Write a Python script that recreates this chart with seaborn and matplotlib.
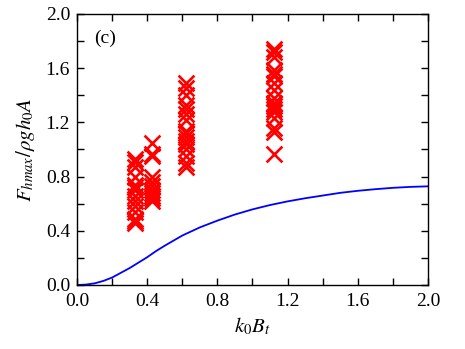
import numpy as np
import pandas as pd
import seaborn as sns
import matplotlib
matplotlib.use("Agg")
import matplotlib.pyplot as plt
from matplotlib.ticker import MultipleLocator, FormatStrFormatter

# experimental data (x positions and values)
x1 = 0.33
y1 = [0.93, 0.91, 0.87, 0.80, 0.74, 0.72, 0.70, 0.66, 0.62, 0.58, 0.54, 0.49, 0.47, 0.46]
x2 = 0.43
y2 = [1.05, 0.97, 0.95, 0.80, 0.76, 0.73, 0.70, 0.68, 0.66, 0.64, 0.62]
x3 = 0.62
y3 = [1.49, 1.45, 1.40, 1.33, 1.30, 1.26, 1.22, 1.14, 1.12, 1.09, 1.06, 1.04, 1.00, 0.95, 0.90, 0.87]
x4 = 1.12
y4 = [1.74, 1.72, 1.68, 1.59, 1.56, 1.54, 1.49, 1.44, 1.38, 1.34, 1.32, 1.30, 1.28, 1.23, 1.16, 1.13, 0.97]

# theory curve
curve_x = [0.0, 0.05, 0.1, 0.15, 0.2, 0.25, 0.3, 0.35, 0.4, 0.45, 0.5, 0.6, 0.7, 0.8, 0.9, 1.0, 1.1, 1.2, 1.3, 1.4, 1.5, 1.6, 1.7, 1.8, 1.9, 2.0]
curve_y = [0.0, 0.003, 0.012, 0.03, 0.055, 0.09, 0.125, 0.165, 0.205, 0.25, 0.29, 0.365, 0.425, 0.475, 0.52, 0.558, 0.59, 0.617, 0.64, 0.66, 0.68, 0.695, 0.707, 0.717, 0.724, 0.728]

sns.set_style("ticks")
plt.rcParams['font.family'] = ['Liberation Serif', 'DejaVu Serif']
plt.rcParams['mathtext.fontset'] = 'stix'

fig = plt.figure(figsize=(4.65, 3.49), dpi=100)
ax = fig.add_axes([0.1656, 0.1834, 0.7548, 0.7766])

pts = pd.DataFrame({
    "x": [x1] * len(y1) + [x2] * len(y2) + [x3] * len(y3) + [x4] * len(y4),
    "y": y1 + y2 + y3 + y4,
})
cur = pd.DataFrame({"x": curve_x, "y": curve_y})

sns.lineplot(data=cur, x="x", y="y", color="#0000ff", linewidth=1.3, ax=ax)
sns.scatterplot(data=pts, x="x", y="y", marker="x", color="red", s=130,
                linewidth=1.9, ax=ax, zorder=3)

ax.set_xlim(0, 2.0)
ax.set_ylim(0, 2.0)
ax.xaxis.set_major_locator(MultipleLocator(0.4))
ax.xaxis.set_minor_locator(MultipleLocator(0.2))
ax.yaxis.set_major_locator(MultipleLocator(0.4))
ax.yaxis.set_minor_locator(MultipleLocator(0.2))
ax.xaxis.set_major_formatter(FormatStrFormatter('%.1f'))
ax.yaxis.set_major_formatter(FormatStrFormatter('%.1f'))
ax.tick_params(which='both', direction='in', top=True, right=True, labelsize=14,
               width=1, color='black', labelcolor='black')
ax.tick_params(which='both', length=5)
ax.tick_params(axis='x', which='major', pad=6)
ax.tick_params(axis='y', which='major', pad=5)
for s in ax.spines.values():
    s.set_linewidth(1)
    s.set_color('black')

ax.set_xlabel(r"$k_0B_t$", fontsize=15, labelpad=4, color='black')
ax.set_ylabel(r"$F_{hmax}/\rho gh_0A$", fontsize=15, labelpad=6, color='black')
ax.text(0.1, 1.82, "(c)", fontsize=14, va="center", ha="left", color='black')

fig.savefig("out.png", dpi=100)
